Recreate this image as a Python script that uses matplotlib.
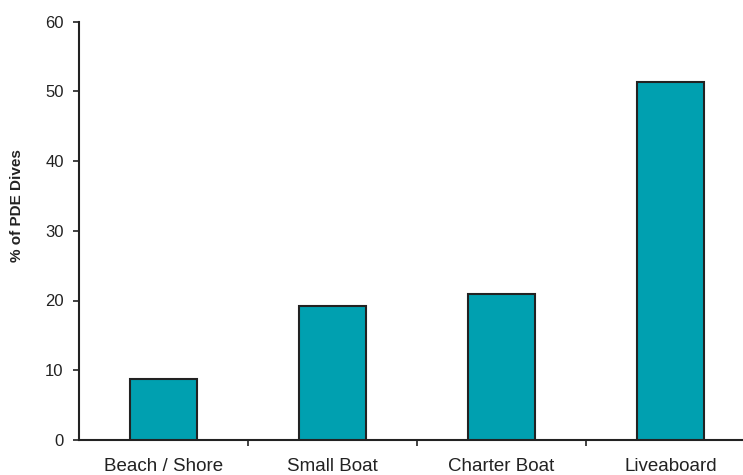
import matplotlib
matplotlib.use("Agg")
import matplotlib.pyplot as plt

categories = ["Beach / Shore", "Small Boat", "Charter Boat", "Liveaboard"]
values = [8.7, 19.2, 20.9, 51.3]
yticks = [0, 10, 20, 30, 40, 50, 60]

plt.rcParams['font.family'] = ['Liberation Sans', 'DejaVu Sans']

W, H = 743, 475
fig = plt.figure(figsize=(W/100, H/100), dpi=100)
left, right, top, bottom = 79, 755, 21.5, 440
ax = fig.add_axes([left/W, 1 - bottom/H, (right-left)/W, (bottom-top)/H])

x = list(range(len(categories)))
ax.bar(x, values, width=0.4, color="#00A0B0", edgecolor="#222222", linewidth=1.5, zorder=3)

ax.set_xlim(-0.5, len(categories) - 0.5)
ax.set_ylim(0, 60)
ax.set_yticks(yticks)
ax.set_yticklabels([str(t) for t in yticks], fontsize=12, color="#222222")
ax.set_xticks([i + 0.5 for i in range(len(categories) - 1)])
ax.set_xticklabels([])
ax.set_xticks(x, minor=True)
ax.set_xticklabels(categories, minor=True, fontsize=13.5, color="#222222")
ax.tick_params(axis='x', which='minor', length=0, pad=13)
ax.tick_params(axis='x', which='major', length=4, direction='out', width=1.2, color="#222222")
ax.tick_params(axis='y', length=4, direction='out', width=1.2, color="#222222", pad=7)

for s in ["top", "right"]:
    ax.spines[s].set_visible(False)
for s in ["left", "bottom"]:
    ax.spines[s].set_linewidth(1.5)
    ax.spines[s].set_color("#222222")

ax.set_ylabel("% of PDE Dives", fontsize=11, fontweight='bold', color="#222222")
ax.yaxis.set_label_coords(-0.081, 0.56)

fig.savefig("out.png", dpi=100)
